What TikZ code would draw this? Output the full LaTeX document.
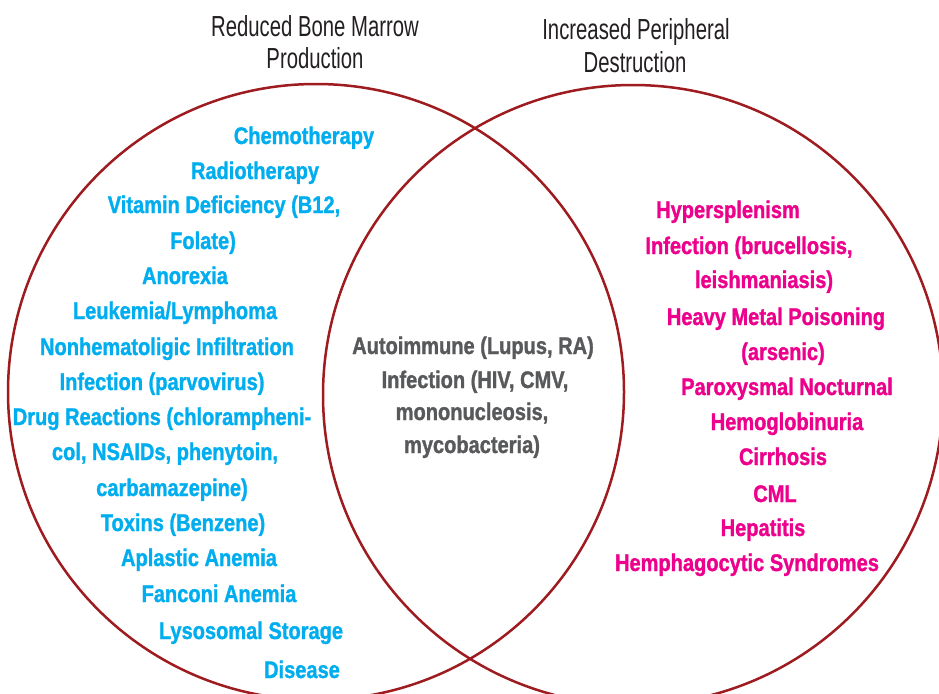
\documentclass[tikz,border=0pt]{standalone}
\usepackage{fontspec}
\setmainfont{Liberation Sans}
\newfontfamily\bodyfont{Liberation Sans}[FakeStretch=0.835,FakeBold=1.2]
\newfontfamily\titlefont{Liberation Sans}[FakeStretch=0.70]
\definecolor{ringred}{HTML}{9E1B20}
\definecolor{bluetxt}{HTML}{00AEEF}
\definecolor{pinktxt}{HTML}{EC008C}
\definecolor{graytxt}{HTML}{58595B}
\definecolor{titletxt}{HTML}{231F20}
\tikzset{
  ring/.style={draw=ringred, line width=2.5pt},
  ttl/.style={anchor=base, inner sep=0pt, text=titletxt, font=\titlefont\fontsize{29}{29}\selectfont},
  bl/.style={anchor=base, inner sep=0pt, text=bluetxt, font=\bodyfont\bfseries\fontsize{24}{24}\selectfont},
  pk/.style={anchor=base, inner sep=0pt, text=pinktxt, font=\bodyfont\bfseries\fontsize{24}{24}\selectfont},
  gr/.style={anchor=base, inner sep=0pt, text=graytxt, font=\bodyfont\bfseries\fontsize{24}{24}\selectfont},
}
\begin{document}
\begin{tikzpicture}[x=1pt,y=-1pt]
\useasboundingbox (0,0) rectangle (939,693);
\clip (0,0) rectangle (939,693);
\fill[white] (0,0) rectangle (939,693);
\draw[ring] (316,392) circle [radius=308pt];
\draw[ring] (633,395) circle [radius=310pt];
% titles
\node[ttl] (t1) at (315,37) {Reduced Bone Marrow};
\node[ttl] (t2) at (315,68) {Production};
\node[ttl] (t3) at (636,40) {Increased Peripheral};
\node[ttl] (t4) at (635,72) {Destruction};
% left (blue)
\node[bl] (b1) at (304,144) {Chemotherapy};
\node[bl] (b2) at (255,179) {Radiotherapy};
\node[bl] (b3) at (224,213) {Vitamin Deficiency (B12,};
\node[bl] (b4) at (203,249) {Folate)};
\node[bl] (b5) at (185,284) {Anorexia};
\node[bl] (b6) at (175,319) {Leukemia/Lymphoma};
\node[bl] (b7) at (167,355) {Nonhematoligic Infiltration};
\node[bl] (b8) at (162,390) {Infection (parvovirus)};
\node[bl] (b9) at (162,425) {Drug Reactions (chlorampheni-};
\node[bl] (b10) at (165,460) {col, NSAIDs, phenytoin,};
\node[bl] (b11) at (172,496) {carbamazepine)};
\node[bl] (b12) at (183,531) {Toxins (Benzene)};
\node[bl] (b13) at (199,566) {Aplastic Anemia};
\node[bl] (b14) at (219,602) {Fanconi Anemia};
\node[bl] (b15) at (251,639) {Lysosomal Storage};
\node[bl] (b16) at (302,678) {Disease};
% middle (gray)
\node[gr] (g1) at (473,354) {Autoimmune (Lupus, RA)};
\node[gr] (g2) at (475,388) {Infection (HIV, CMV,};
\node[gr] (g3) at (472,420) {mononucleosis,};
\node[gr] (g4) at (472,453) {mycobacteria)};
% right (pink)
\node[pk] (p1) at (728,218) {Hypersplenism};
\node[pk] (p2) at (749,254) {Infection (brucellosis,};
\node[pk] (p3) at (764,288) {leishmaniasis)};
\node[pk] (p4) at (776,325) {Heavy Metal Poisoning};
\node[pk] (p5) at (783,360) {(arsenic)};
\node[pk] (p6) at (787,395) {Paroxysmal Nocturnal};
\node[pk] (p7) at (787,430) {Hemoglobinuria};
\node[pk] (p8) at (783,465) {Cirrhosis};
\node[pk] (p9) at (775,502) {CML};
\node[pk] (p10) at (763,536) {Hepatitis};
\node[pk] (p11) at (747,571) {Hemphagocytic Syndromes};
\end{tikzpicture}
\end{document}
